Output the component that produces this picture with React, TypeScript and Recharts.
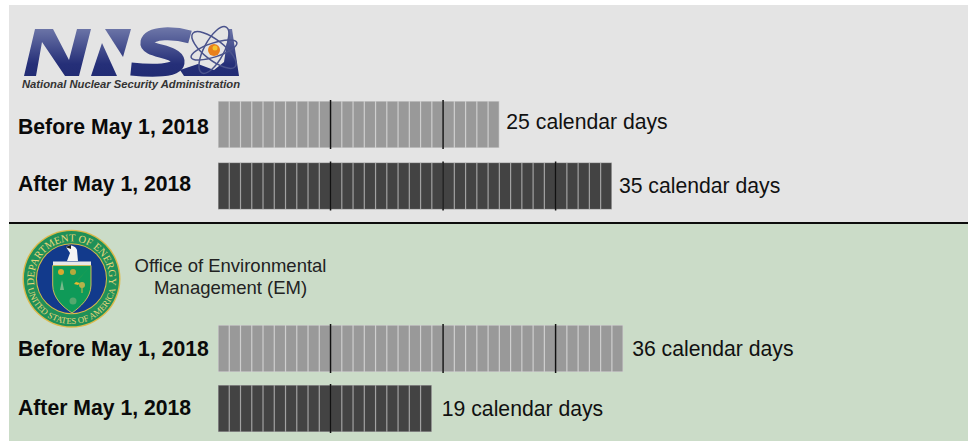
import { BarChart, Bar, XAxis, YAxis, LabelList } from 'recharts';

const nnsaRows = ['Before May 1, 2018', 'After May 1, 2018'];
const nnsaDays = [25, 35];
const emRows = ['Before May 1, 2018', 'After May 1, 2018'];
const emDays = [36, 19];
const markerDays = [10, 20, 30];
const periodColors = ['#999999', '#434343'];
const gapColors = ['#cfcfcf', '#a2a2a2'];

const nnsaData = nnsaRows.map((name, i) => ({ name, days: nnsaDays[i], color: periodColors[i], gap: gapColors[i] }));
const emData = emRows.map((name, i) => ({ name, days: emDays[i], color: periodColors[i], gap: gapColors[i] }));

const FONT = '"Liberation Sans", Arial, sans-serif';

// one bar is split in day cells, with a black mark every 10 days
const DayCells = (props: any) => {
    const { x, y, width, height, payload } = props;
    const step = width / payload.days;
    const cells = [];
    for (let d = 0; d < payload.days; d++) {
        cells.push(
            <rect key={d} x={x + d * step + 0.6} y={y + 0.6} width={step - 1.2} height={height - 1.2}
                fill={payload.color} />
        );
    }
    return (
        <g>
            <rect x={x} y={y} width={width} height={height} fill={payload.gap} />
            {cells}
            {markerDays.filter((d) => d < payload.days).map((d) => (
                <line key={d} x1={x + d * step} x2={x + d * step} y1={y - 1} y2={y + height + 1}
                    stroke="#111" strokeWidth={1.5} />
            ))}
        </g>
    );
};

function DaysChart({ data, top, height, tickShift, labelShift, labelGap }: any) {
    const RowTick = ({ y, payload, index }: any) => (
        <text x={18} y={y + 7 + tickShift[index]} fontFamily={FONT} fontSize={21.2} fontWeight="bold" fill="#0a0a0a">
            {payload.value}
        </text>
    );
    const DaysLabel = ({ x, y, width, height, value, index }: any) => (
        <text x={x + width + labelGap[index]} y={y + height / 2 + 7 + labelShift[index]}
            fontFamily={FONT} fontSize={21.2} fill="#111">
            {`${value} calendar days`}
        </text>
    );
    return (
        <div style={{ position: 'absolute', left: 0, top }}>
            <BarChart width={972} height={height} data={data} layout="vertical"
                margin={{ top: 0, right: 0, bottom: 0, left: 0 }}>
                <XAxis type="number" domain={[0, 67]} hide />
                <YAxis type="category" dataKey="name" width={218} axisLine={false} tickLine={false} tick={<RowTick />} />
                <Bar dataKey="days" barSize={47} shape={<DayCells />} isAnimationActive={false}>
                    <LabelList dataKey="days" content={<DaysLabel />} />
                </Bar>
            </BarChart>
        </div>
    );
}

function NnsaLogo() {
    return (
        <svg width={972} height={100} style={{ position: 'absolute', left: 0, top: 0 }}>
            <defs>
                <linearGradient id="nnsaBlue" gradientUnits="userSpaceOnUse" x1={0} y1={28} x2={0} y2={76}>
                    <stop offset="0" stopColor="#6d76a8" />
                    <stop offset="0.75" stopColor="#252f78" />
                    <stop offset="1" stopColor="#222c74" />
                </linearGradient>
            </defs>
            <polygon fill="url(#nnsaBlue)" points="24,76 35,29 53,29 69,60 77,29 91,29 79,76 65,76 42,42 36,76" />
            <polygon fill="url(#nnsaBlue)" points="91,76 102,43 117,76" />
            <polygon fill="url(#nnsaBlue)" points="105,29 131,29 123,57" />
            <path fill="none" stroke="url(#nnsaBlue)" strokeWidth={13}
                d="M190,37 C176,33 150,31 147,42 C145,52 176,50 178,61 C179,72 150,71 131,69" />
            <path fill="url(#nnsaBlue)" d="M180,70 L198,64 L214,70 L224,62 L229,29 L232,29 L239,76 L184,76 Z" />
            <g fill="none" stroke="#4a538c" strokeWidth={1.5}>
                <ellipse cx={214} cy={50} rx={27} ry={10} transform="rotate(38 214 50)" />
                <ellipse cx={214} cy={50} rx={26} ry={10} transform="rotate(-62 214 50)" />
                <ellipse cx={214} cy={50} rx={24} ry={7} transform="rotate(-18 214 50)" />
            </g>
            <circle cx={214} cy={50} r={6} fill="#e8801c" />
            <circle cx={215} cy={48} r={2.5} fill="#f4c52c" />
            <text x={22} y={88} fontFamily={FONT} fontSize={10.4} fontWeight="bold" fontStyle="italic"
                fill="#333" textLength={218} lengthAdjust="spacingAndGlyphs">
                National Nuclear Security Administration
            </text>
        </svg>
    );
}

function DoeSeal() {
    return (
        <svg width={110} height={110} viewBox="17 224 110 110" style={{ position: 'absolute', left: 17, top: 224 }}>
            <defs>
                <path id="sealTop" d="M39,297.5 A37.5,37.5 0 1 1 104,297.5" />
                <path id="sealBottom" d="M26.5,279 A45,45 0 0 0 116.5,279" />
            </defs>
            <circle cx={71.5} cy={278.7} r={49} fill="#dcb94a" />
            <circle cx={71.5} cy={278.7} r={47.6} fill="#1f9058" />
            <circle cx={71.5} cy={278.7} r={35.5} fill="#dcb94a" />
            <circle cx={71.5} cy={278.7} r={34.5} fill="#123a8c" />
            <text fontFamily='"Liberation Serif", serif' fontSize={10.5} fill="#ecd67c" textAnchor="middle">
                <textPath href="#sealTop" startOffset="50%">DEPARTMENT OF ENERGY</textPath>
            </text>
            <text fontFamily='"Liberation Serif", serif' fontSize={8.8} fill="#ecd67c" textAnchor="middle">
                <textPath href="#sealBottom" startOffset="50%">UNITED STATES OF AMERICA</textPath>
            </text>
            <path d="M52.7,265.5 L91,265.5 L91,285 C91,298 80,307 72,313 C63,307 52.7,298 52.7,285 Z"
                fill="#0f9a58" stroke="#e2c458" strokeWidth={0.9} />
            <rect x={53} y={261.5} width={38} height={3.5} fill="#e8e8e8" />
            <path d="M66,247 C69,244 76,246 77,250 L78,261 L67,261 L70,253 Z" fill="#f4f4f4" />
            <path d="M65,247 L71,245 L71,249 Z" fill="#222" />
            <path d="M90,267 L74,284 L78,285 L62,301 L80,283 L76,282 Z" fill="#eeb92e" />
            <circle cx={61} cy={272} r={3} fill="#d9a92f" />
            <circle cx={73} cy={272} r={3} fill="#b5a93c" />
            <path d="M60,290 L62,280 L64,290 Z" fill="#77b98a" />
            <circle cx={82} cy={285} r={3} fill="#b5b24a" />
            <rect x={81.4} y={285} width={1.2} height={8} fill="#b5b24a" />
            <circle cx={73} cy={301} r={3.5} fill="#55a86e" />
        </svg>
    );
}

export default function App() {
    return (
        <div style={{ position: 'absolute', left: 0, top: 0, width: 972, height: 441, background: '#fff', overflow: 'hidden' }}>
            <div style={{ position: 'absolute', left: 9, top: 5, width: 959, height: 217, background: '#e4e4e4' }} />
            <div style={{ position: 'absolute', left: 9, top: 224, width: 959, height: 217, background: '#cbdcc8' }} />
            <div style={{ position: 'absolute', left: 9, top: 222, width: 959, height: 2, background: '#0c0c0c' }} />
            <NnsaLogo />
            <DoeSeal />
            <div style={{ position: 'absolute', left: 130, top: 255, width: 201, textAlign: 'center', fontFamily: FONT, fontSize: 18.5, lineHeight: '22px', color: '#222' }}>
                Office of Environmental<br />Management (EM)
            </div>
            <DaysChart data={nnsaData} top={94} height={123} tickShift={[2, -2]} labelShift={[-3, 0]} labelGap={[7, 7]} />
            <DaysChart data={emData} top={318} height={120} tickShift={[1, 0]} labelShift={[0, 0]} labelGap={[9, 10]} />
        </div>
    );
}
